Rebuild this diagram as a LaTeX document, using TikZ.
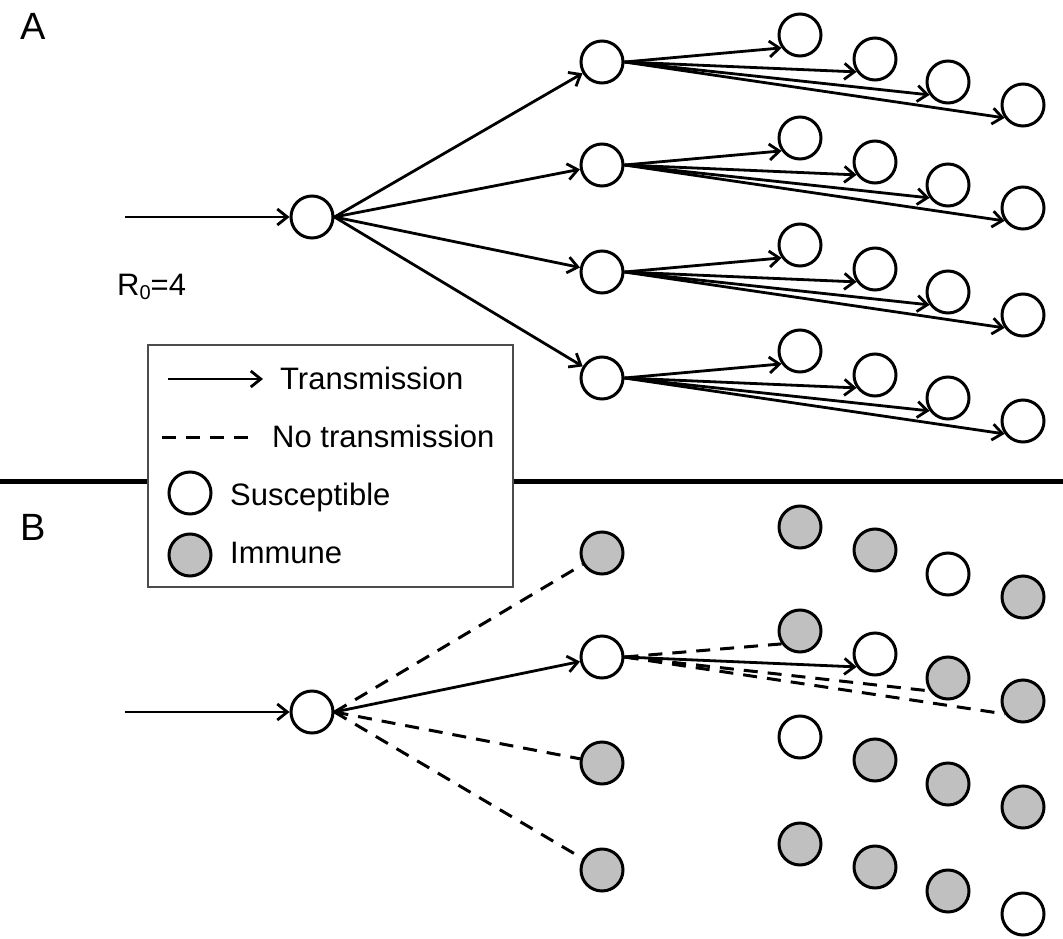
\documentclass[tikz,border=0pt]{standalone}
\usepackage{fontspec}
\setmainfont{Liberation Sans}
\usetikzlibrary{arrows.meta}
\definecolor{immgray}{RGB}{192,192,192}
\begin{document}
\begin{tikzpicture}[x=1pt,y=-1pt,
  person/.style={circle,draw,line width=3pt,minimum size=42pt,inner sep=0pt,fill=white},
  immune/.style={person,fill=immgray},
  trans/.style={line width=2.8pt,-{Straight Barb[length=10pt,width=16pt]}},
  notrans/.style={line width=3pt,dash pattern=on 14pt off 10pt},
  lbl/.style={font=\fontsize{31}{31}\selectfont,anchor=base west,inner sep=0pt},
  panel/.style={font=\fontsize{38}{38}\selectfont,anchor=base west,inner sep=0pt}]
\useasboundingbox (0,0) rectangle (1063,939);

% ---------- Panel A ----------
\node[panel] (labA) at (20,40) {A};
\node[lbl] (r0) at (117,295) {R\raisebox{-0.25ex}{\fontsize{20}{20}\selectfont 0}=4};
\node[person] (rootA) at (312,217) {};
\coordinate (inA) at (125,217);
\draw[trans] (inA) -- (rootA);
\foreach \i/\y in {1/62,2/165,3/272,4/378}{
  \node[person] (a\i) at (602,\y) {};
  \draw[trans] (rootA.east) -- (a\i);
  \foreach \j/\x/\dy in {1/800/-27,2/875/-3,3/948/20,4/1023/43}{
    \node[person] (a\i\j) at (\x,\y+\dy) {};
    \draw[trans] (a\i.east) -- (a\i\j.215);
  }
}

% ---------- separator ----------
\coordinate (sepL) at (0,481);
\coordinate (sepR) at (1063,481);
\draw[line width=5pt] (sepL) -- (sepR);

% ---------- legend ----------
\node[draw=black!70,line width=1.8pt,fill=white,minimum width=365pt,minimum height=242pt,inner sep=0pt] (legend) at (330.5,466) {};
\coordinate (lt1) at (168,379);
\coordinate (lt2) at (263,379);
\draw[trans] (lt1) -- (lt2);
\node[lbl] (ltT) at (280,389) {Transmission};
\coordinate (ln1) at (162,437);
\coordinate (ln2) at (258,437);
\draw[notrans] (ln1) -- (ln2);
\node[lbl] (lnT) at (272,447) {No transmission};
\node[person] (lsC) at (190,493) {};
\node[lbl] (lsT) at (230,505) {Susceptible};
\node[immune] (liC) at (190,555) {};
\node[lbl] (liT) at (230,563) {Immune};

% ---------- Panel B ----------
\node[panel] (labB) at (20,540) {B};
\node[person] (rootB) at (312,712) {};
\coordinate (inB) at (125,712);
\draw[trans] (inB) -- (rootB);
\node[immune] (b1) at (602,553) {};
\node[person] (b2) at (602,657) {};
\node[immune] (b3) at (602,763) {};
\node[immune] (b4) at (602,870) {};
\draw[notrans] (rootB.east) -- (b1);
\draw[trans] (rootB.east) -- (b2);
\draw[notrans] (rootB.east) -- (b3);
\draw[notrans] (rootB.east) -- (b4);
% grid of second generation
\foreach \i/\y/\sa/\sb/\sc/\sd in {1/553/immune/immune/person/immune,
                                   2/657/immune/person/immune/immune,
                                   3/763/person/immune/immune/immune,
                                   4/870/immune/immune/immune/person}{
  \node[\sa] (b\i1) at (800,\y-26) {};
  \node[\sb] (b\i2) at (875,\y-3) {};
  \node[\sc] (b\i3) at (948,\y+21) {};
  \node[\sd] (b\i4) at (1023,\y+44) {};
}
\draw[notrans] (b2.east) -- (b21.215);
\draw[trans] (b2.east) -- (b22.215);
\draw[notrans] (b2.east) -- (b23.215);
\draw[notrans] (b2.east) -- (b24.215);
\end{tikzpicture}
\end{document}
